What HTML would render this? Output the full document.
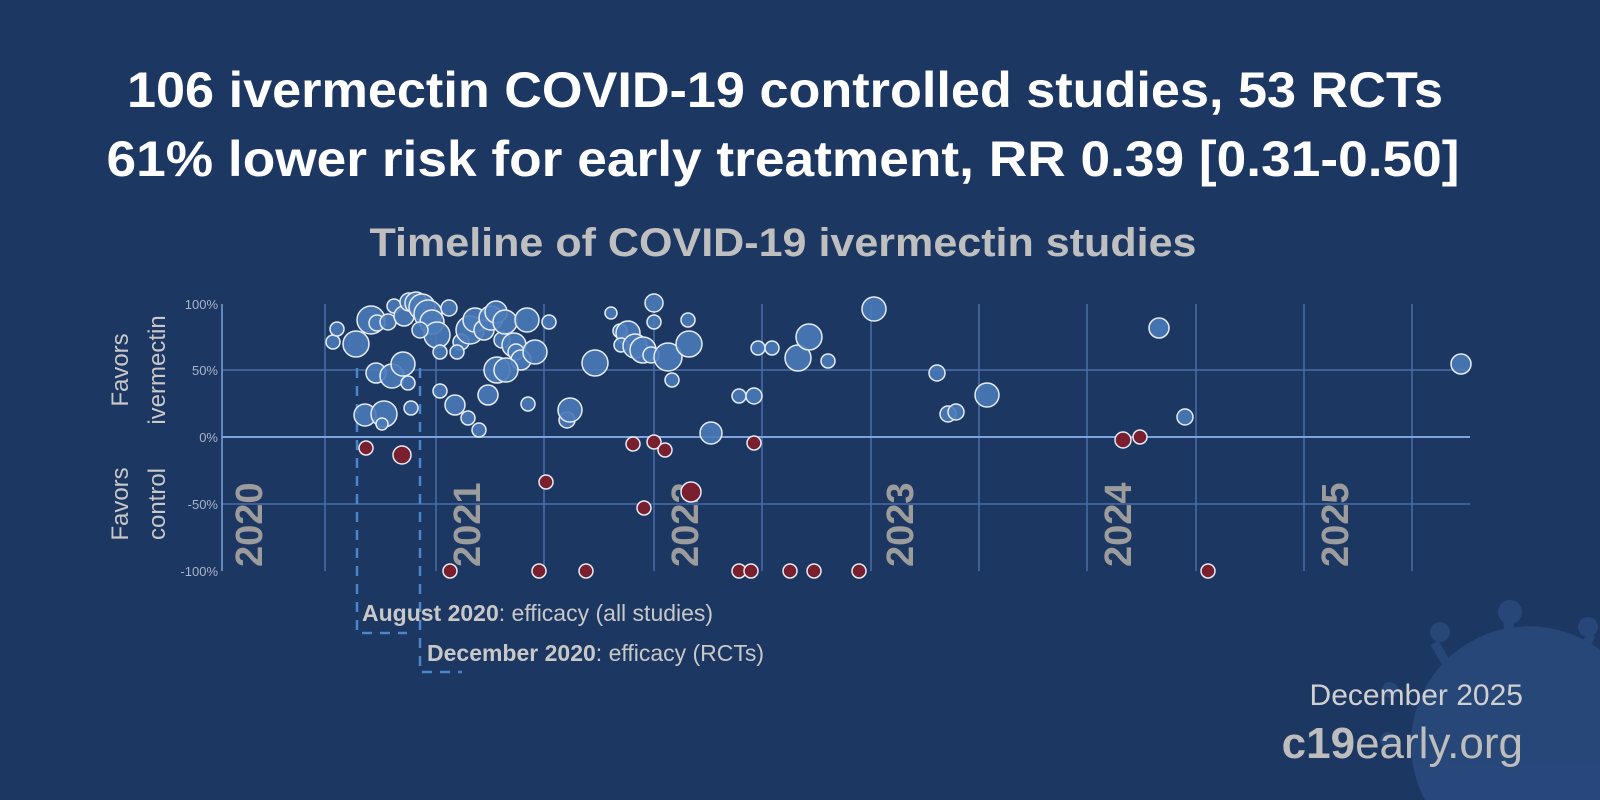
<!DOCTYPE html>
<html><head><meta charset="utf-8"><style>
html,body{margin:0;padding:0;background:#1d3763;width:1600px;height:800px;overflow:hidden;}
svg{display:block;font-family:"Liberation Sans",sans-serif;}
</style></head><body>
<svg width="1600" height="800" viewBox="0 0 1600 800" xmlns="http://www.w3.org/2000/svg">
<rect width="1600" height="800" fill="#1d3763"/>
<g fill="#2a4a7e" opacity="0.85">
<path d="M1425 800 A118 118 0 0 1 1600 650 V800 Z"/>
<rect x="1505" y="615" width="10" height="55" transform="rotate(-5 1510 640)"/>
<circle cx="1510" cy="612" r="12"/>
<rect x="1440" y="640" width="9" height="45" transform="rotate(-30 1445 660)"/>
<circle cx="1440" cy="632" r="10"/>
<rect x="1578" y="632" width="9" height="45" transform="rotate(30 1582 650)"/>
<circle cx="1588" cy="627" r="10"/>
<circle cx="1390" cy="690" r="8"/>
<circle cx="1388" cy="740" r="8"/>
</g>
<text x="785" y="107" text-anchor="middle" font-size="50" font-weight="bold" fill="#ffffff" textLength="1316" lengthAdjust="spacingAndGlyphs">106 ivermectin COVID-19 controlled studies, 53 RCTs</text>
<text x="783" y="176" text-anchor="middle" font-size="50" font-weight="bold" fill="#ffffff" textLength="1353" lengthAdjust="spacingAndGlyphs">61% lower risk for early treatment, RR 0.39 [0.31-0.50]</text>
<text x="783" y="256" text-anchor="middle" font-size="40" font-weight="bold" fill="#bfbfbf" textLength="827" lengthAdjust="spacingAndGlyphs">Timeline of COVID-19 ivermectin studies</text>

<g stroke="#4a6fa8" stroke-width="1.5">
<line x1="222" y1="370" x2="1470" y2="370"/>
<line x1="222" y1="504" x2="1470" y2="504"/>
<line x1="325" y1="304" x2="325" y2="571"/>
<line x1="436" y1="304" x2="436" y2="571"/>
<line x1="544" y1="304" x2="544" y2="571"/>
<line x1="654" y1="304" x2="654" y2="571"/>
<line x1="762" y1="304" x2="762" y2="571"/>
<line x1="871" y1="304" x2="871" y2="571"/>
<line x1="979" y1="304" x2="979" y2="571"/>
<line x1="1087" y1="304" x2="1087" y2="571"/>
<line x1="1196" y1="304" x2="1196" y2="571"/>
<line x1="1304" y1="304" x2="1304" y2="571"/>
<line x1="1412" y1="304" x2="1412" y2="571"/>
</g>
<line x1="222" y1="437" x2="1470" y2="437" stroke="#7da4dc" stroke-width="2"/>
<line x1="222" y1="304" x2="222" y2="571" stroke="#7da4dc" stroke-width="1.5"/>
<g font-size="13" fill="#a9b4c8" text-anchor="end">
<text x="218" y="309">100%</text><text x="218" y="375">50%</text><text x="218" y="442">0%</text>
<text x="218" y="509">-50%</text><text x="218" y="576">-100%</text>
</g>
<g font-size="24" fill="#c8c8c8" text-anchor="middle">
<text transform="translate(128,370) rotate(-90)">Favors</text>
<text transform="translate(165,370) rotate(-90)">ivermectin</text>
<text transform="translate(128,504) rotate(-90)">Favors</text>
<text transform="translate(165,504) rotate(-90)">control</text>
</g>
<g font-size="38" font-weight="bold" fill="#9c9c9c">
<text transform="translate(262,567) rotate(-90)">2020</text>
<text transform="translate(480,567) rotate(-90)">2021</text>
<text transform="translate(698,567) rotate(-90)">2022</text>
<text transform="translate(913,567) rotate(-90)">2023</text>
<text transform="translate(1131,567) rotate(-90)">2024</text>
<text transform="translate(1348,567) rotate(-90)">2025</text>
</g>
<g stroke="#4a86c8" stroke-width="2.5" stroke-dasharray="10,8" fill="none">
<path d="M357 368 V633 H407"/>
<path d="M420 368 V672 H462"/>
</g>
<g fill="#4a7ab8" fill-opacity="0.9" stroke="#e6ecf5" stroke-width="1.5">
<circle cx="333" cy="342" r="7"/><circle cx="337" cy="329" r="7"/><circle cx="356" cy="344" r="13"/><circle cx="371" cy="320" r="14"/><circle cx="377" cy="323" r="8"/><circle cx="388" cy="322" r="8"/><circle cx="394" cy="306" r="7"/><circle cx="404" cy="316" r="10"/><circle cx="409" cy="302" r="9"/><circle cx="416" cy="303" r="11"/><circle cx="422" cy="307" r="13"/><circle cx="428" cy="314" r="14"/><circle cx="432" cy="322" r="12"/><circle cx="437" cy="335" r="13"/><circle cx="420" cy="330" r="8"/><circle cx="440" cy="352" r="7"/><circle cx="449" cy="308" r="8"/><circle cx="461" cy="342" r="8"/><circle cx="457" cy="352" r="7"/><circle cx="470" cy="330" r="14"/><circle cx="475" cy="320" r="12"/><circle cx="484" cy="330" r="10"/><circle cx="491" cy="318" r="12"/><circle cx="496" cy="312" r="11"/><circle cx="502" cy="340" r="8"/><circle cx="505" cy="322" r="12"/><circle cx="514" cy="345" r="12"/><circle cx="516" cy="352" r="8"/><circle cx="521" cy="360" r="10"/><circle cx="527" cy="320" r="12"/><circle cx="535" cy="352" r="12"/><circle cx="549" cy="322" r="7"/><circle cx="376" cy="373" r="10"/><circle cx="392" cy="376" r="12"/><circle cx="403" cy="364" r="12"/><circle cx="408" cy="383" r="7"/><circle cx="440" cy="391" r="7"/><circle cx="365" cy="415" r="11"/><circle cx="384" cy="414" r="13"/><circle cx="411" cy="408" r="7"/><circle cx="382" cy="424" r="6"/><circle cx="455" cy="405" r="10"/><circle cx="488" cy="395" r="10"/><circle cx="497" cy="370" r="13"/><circle cx="506" cy="370" r="12"/><circle cx="468" cy="418" r="7"/><circle cx="479" cy="430" r="7"/><circle cx="528" cy="404" r="7"/><circle cx="567" cy="420" r="8"/><circle cx="570" cy="410" r="12"/><circle cx="595" cy="363" r="13"/><circle cx="611" cy="313" r="6"/><circle cx="620" cy="331" r="7"/><circle cx="628" cy="333" r="12"/><circle cx="621" cy="345" r="7"/><circle cx="635" cy="346" r="12"/><circle cx="643" cy="350" r="13"/><circle cx="654" cy="303" r="9"/><circle cx="654" cy="322" r="7"/><circle cx="651" cy="355" r="8"/><circle cx="668" cy="357" r="14"/><circle cx="672" cy="380" r="7"/><circle cx="688" cy="320" r="7"/><circle cx="689" cy="344" r="13"/><circle cx="711" cy="433" r="11"/><circle cx="739" cy="396" r="7"/><circle cx="754" cy="396" r="8"/><circle cx="758" cy="348" r="7"/><circle cx="772" cy="348" r="7"/><circle cx="798" cy="358" r="13"/><circle cx="809" cy="337" r="13"/><circle cx="828" cy="361" r="7"/><circle cx="874" cy="309" r="12"/><circle cx="937" cy="373" r="8"/><circle cx="948" cy="414" r="8"/><circle cx="956" cy="412" r="8"/><circle cx="987" cy="395" r="12"/><circle cx="1159" cy="328" r="10"/><circle cx="1185" cy="417" r="8"/><circle cx="1461" cy="364" r="10"/>
</g>
<g fill="#7a1f2e" stroke="#e6ecf5" stroke-width="1.5">
<circle cx="366" cy="448" r="7"/><circle cx="402" cy="455" r="9"/><circle cx="450" cy="571" r="7"/><circle cx="539" cy="571" r="7"/><circle cx="586" cy="571" r="7"/><circle cx="546" cy="482" r="7"/><circle cx="633" cy="444" r="7"/><circle cx="654" cy="442" r="7"/><circle cx="665" cy="450" r="7"/><circle cx="644" cy="508" r="7"/><circle cx="691" cy="492" r="10"/><circle cx="739" cy="571" r="7"/><circle cx="751" cy="571" r="7"/><circle cx="754" cy="443" r="7"/><circle cx="790" cy="571" r="7"/><circle cx="814" cy="571" r="7"/><circle cx="859" cy="571" r="7"/><circle cx="1123" cy="440" r="8"/><circle cx="1140" cy="437" r="7"/><circle cx="1208" cy="571" r="7"/>
</g>
<g font-size="23" fill="#c8c8c8">
<text x="362" y="621"><tspan font-weight="bold">August 2020</tspan>: efficacy (all studies)</text>
<text x="427" y="661"><tspan font-weight="bold">December 2020</tspan>: efficacy (RCTs)</text>
</g>
<text x="1523" y="705" text-anchor="end" font-size="30" fill="#d0d0d0">December 2025</text>
<text x="1523" y="758" text-anchor="end" font-size="44" fill="#bdbdbd"><tspan font-weight="bold">c19</tspan>early.org</text>
</svg>
</body></html>
